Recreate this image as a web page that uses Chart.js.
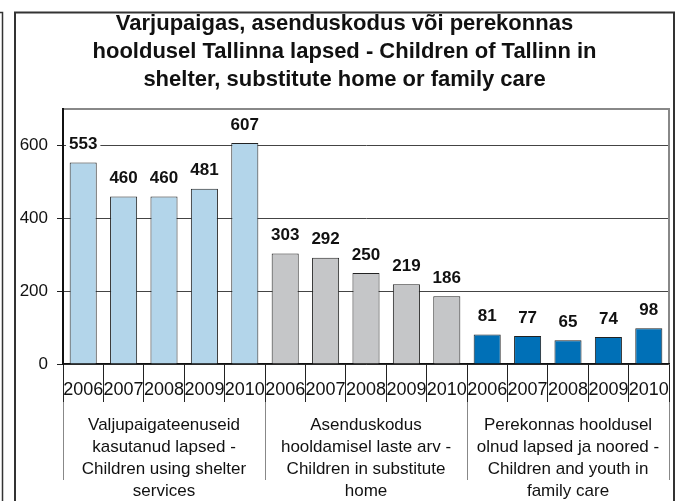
<!DOCTYPE html>
<html><head><meta charset="utf-8">
<script src="https://cdn.jsdelivr.net/npm/chart.js@4/dist/chart.umd.min.js"></script>
<style>html,body{margin:0;padding:0;background:#fff}canvas{display:block}</style>
</head><body>
<canvas id="c" width="681" height="501"></canvas>
<script>
const titleLines = [
  'Varjupaigas, asenduskodus või perekonnas',
  'hooldusel Tallinna lapsed - Children of Tallinn in',
  'shelter, substitute home or family care'
];
const years = ['2006','2007','2008','2009','2010'];
const groupLabels = [
  ['Valjupaigateenuseid', 'kasutanud lapsed -', 'Children using shelter', 'services'],
  ['Asenduskodus', 'hooldamisel laste arv -', 'Children in substitute', 'home'],
  ['Perekonnas hooldusel', 'olnud lapsed ja noored -', 'Children and youth in', 'family care']
];
const shelterValues = [553, 460, 460, 481, 607];
const substituteValues = [303, 292, 250, 219, 186];
const familyValues = [81, 77, 65, 74, 98];
const yTickValues = [0, 200, 400, 600];
const yMax = 700;
const groupColors = ['#B3D5EA', '#C5C6C8', '#0070B7'];

const FONT = '"Liberation Sans", Arial, Helvetica, sans-serif';
const categories = [...years, ...years, ...years];
const values = [...shelterValues, ...substituteValues, ...familyValues];
const barColors = [
  ...shelterValues.map(() => groupColors[0]),
  ...substituteValues.map(() => groupColors[1]),
  ...familyValues.map(() => groupColors[2])
];

const framePlugin = {
  id: 'frame',
  beforeDraw(chart) {
    const ctx = chart.ctx;
    ctx.save();
    ctx.fillStyle = '#fff';
    ctx.fillRect(0, 0, chart.width, chart.height);
    ctx.strokeStyle = '#333';
    ctx.lineWidth = 2;
    ctx.beginPath();
    ctx.moveTo(15, chart.height + 5);
    ctx.lineTo(15, 12.5);
    ctx.lineTo(674, 12.5);
    ctx.lineTo(674, chart.height + 5);
    ctx.stroke();
    ctx.lineWidth = 1.5;
    ctx.beginPath();
    ctx.moveTo(0, 12.5);
    ctx.lineTo(2.5, 12.5);
    ctx.lineTo(2.5, chart.height + 5);
    ctx.stroke();
    ctx.restore();
  }
};

const labelPlugin = {
  id: 'barLabels',
  afterDatasetsDraw(chart) {
    const ctx = chart.ctx;
    const meta = chart.getDatasetMeta(0);
    ctx.save();
    ctx.font = 'bold 17px ' + FONT;
    ctx.textAlign = 'center';
    ctx.textBaseline = 'middle';
    meta.data.forEach((bar, i) => {
      const txt = String(values[i]);
      const w = ctx.measureText(txt).width + 6;
      const cy = bar.y - 18;
      ctx.fillStyle = '#fff';
      ctx.fillRect(bar.x - w / 2, Math.max(cy - 9, chart.chartArea.top + 1.5), w, 18);
      ctx.fillStyle = '#111';
      ctx.fillText(txt, bar.x, cy);
    });
    ctx.restore();
  }
};

new Chart(document.getElementById('c'), {
  type: 'bar',
  data: {
    labels: categories,
    datasets: [{
      data: values,
      backgroundColor: barColors,
      borderColor: '#222',
      borderWidth: 1,
      categoryPercentage: 1,
      barPercentage: 0.67
    }]
  },
  options: {
    responsive: false,
    devicePixelRatio: 1,
    animation: false,
    layout: { padding: { left: 14, right: 6, top: 0, bottom: 0 } },
    plugins: {
      legend: { display: false },
      tooltip: { enabled: false },
      title: {
        display: true,
        text: titleLines,
        color: '#111',
        font: { family: FONT, size: 22, weight: 'bold', lineHeight: 28 / 22 },
        padding: { top: 10, bottom: 15 }
      }
    },
    scales: {
      y: {
        min: 0, max: yMax,
        afterFit(s) { s.width = 49; },
        ticks: {
          stepSize: 200,
          padding: 9,
          color: '#111',
          font: { family: FONT, size: 17 },
          callback: v => yTickValues.includes(v) ? String(v) : ''
        },
        grid: {
          tickLength: 6,
          color: c => c.tick && c.tick.value === yMax ? '#888' : '#444',
          lineWidth: c => c.tick && c.tick.value === yMax ? 2 : 1,
          tickColor: c => c.tick && c.tick.value === yMax ? 'rgba(0,0,0,0)' : '#222'
        },
        border: { display: true, color: '#111', width: 2 }
      },
      yR: {
        type: 'linear',
        position: 'right',
        min: 0, max: yMax,
        afterFit(s) { s.width = 6; },
        ticks: { display: false },
        grid: { display: false },
        border: { display: true, color: '#888', width: 2 }
      },
      x: {
        position: 'bottom',
        weight: 0,
        afterFit(s) { s.height = 38; },
        ticks: {
          autoSkip: false, maxRotation: 0, minRotation: 0,
          padding: -23,
          color: '#111',
          font: { family: FONT, size: 18 }
        },
        grid: {
          offset: true,
          drawOnChartArea: false,
          tickLength: 38,
          color: '#222',
          tickColor: '#222'
        },
        border: { display: true, color: '#111', width: 1.5 }
      },
      xg: {
        type: 'category',
        labels: groupLabels,
        position: 'bottom',
        weight: 1,
        offset: true,
        afterFit(s) { s.height = 99; },
        ticks: {
          autoSkip: false, maxRotation: 0, minRotation: 0,
          padding: -66,
          color: '#111',
          font: { family: FONT, size: 17, lineHeight: 22 / 17 }
        },
        grid: {
          offset: true,
          drawOnChartArea: false,
          tickLength: 78,
          color: '#888',
          tickColor: '#888'
        },
        border: { display: false }
      }
    }
  },
  plugins: [framePlugin, labelPlugin]
});
</script>
</body></html>
